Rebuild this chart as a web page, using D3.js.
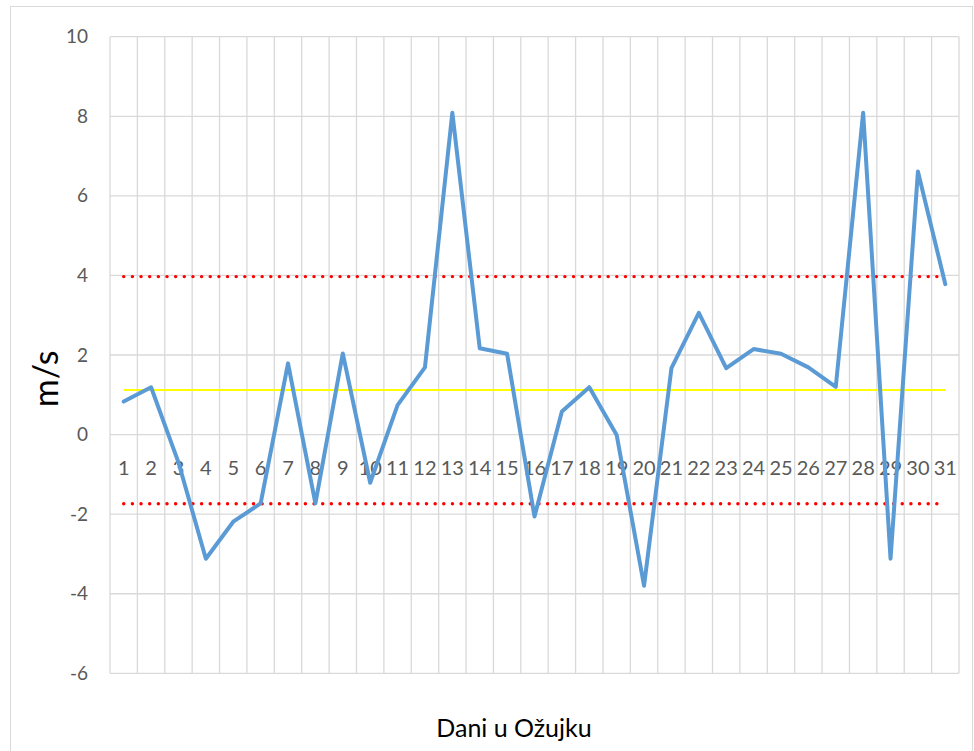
<!DOCTYPE html>
<html lang="hr">
<head>
    <meta charset="UTF-8">
    <title>Dani u Ožujku</title>
    <script src="https://cdn.jsdelivr.net/npm/d3@7"></script>
    <style>
        body { margin: 0; background: #fff; }
        text { font-family: Lato, "Open Sans", sans-serif; }
    </style>
</head>
<body>
<script>
    // dani u ozujku i izmjerene vrijednosti (m/s)
    var days = d3.range(1, 32).map(String);
    var values = [0.83, 1.19, -0.7, -3.12, -2.19, -1.73, 1.79, -1.73, 2.04, -1.21,
                  0.74, 1.69, 8.09, 2.17, 2.03, -2.06, 0.58, 1.19, -0.01, -3.80,
                  1.67, 3.06, 1.67, 2.15, 2.03, 1.69, 1.20, 8.09, -3.12, 6.61, 3.78];
    var yTicks = [-6, -4, -2, 0, 2, 4, 6, 8, 10];
    var meanValue = 1.12;      // zuta linija
    var upperLimit = 3.97;     // crvene tockaste granice
    var lowerLimit = -1.74;

    var width = 974, height = 751;
    var margin = {top: 36.7, right: 15, bottom: 77.7, left: 110};

    var svg = d3.select('body')
            .append('svg')
            .attr('width', width)
            .attr('height', height);

    // okvir grafikona
    svg.append('rect')
            .attr('x', 10.5).attr('y', 6.5)
            .attr('width', 962).attr('height', 770)
            .attr('fill', 'none')
            .attr('stroke', '#d9d9d9')
            .attr('stroke-width', 1);

    var x = d3.scaleBand()
            .domain(days)
            .range([margin.left, width - margin.right]);
    var y = d3.scaleLinear()
            .domain([-6, 10])
            .range([height - margin.bottom, margin.top]);

    // vodoravne linije mreze
    svg.append('g')
            .selectAll('line')
            .data(yTicks)
            .enter()
            .append('line')
            .attr('x1', margin.left).attr('x2', width - margin.right)
            .attr('y1', function (d) { return y(d); })
            .attr('y2', function (d) { return y(d); })
            .attr('stroke', '#d9d9d9')
            .attr('stroke-width', 1.3);

    // okomite linije mreze (granice kategorija)
    var bounds = days.map(function (d) { return x(d); }).concat([x(days[days.length - 1]) + x.bandwidth()]);
    svg.append('g')
            .selectAll('line')
            .data(bounds)
            .enter()
            .append('line')
            .attr('x1', function (d) { return d; })
            .attr('x2', function (d) { return d; })
            .attr('y1', margin.top).attr('y2', height - margin.bottom)
            .attr('stroke', '#d9d9d9')
            .attr('stroke-width', 1.3);

    // oznake y osi
    var yAxis = svg.append('g')
            .attr('transform', 'translate(' + (margin.left - 22) + ',0)')
            .call(d3.axisLeft(y).tickValues(yTicks).tickSize(0).tickPadding(0)
                    .tickFormat(function (d) { return String(d); }));
    yAxis.select('.domain').remove();
    yAxis.selectAll('text')
            .attr('fill', '#595959')
            .style('font-size', '19px');

    // oznake dana kod nule
    svg.append('g')
            .selectAll('text')
            .data(days)
            .enter()
            .append('text')
            .attr('x', function (d) { return x(d) + x.bandwidth() / 2; })
            .attr('y', y(0) + 40)
            .attr('text-anchor', 'middle')
            .attr('fill', '#595959')
            .style('font-size', '20px')
            .text(function (d) { return d; });

    var x0 = x(days[0]) + x.bandwidth() / 2;
    var x1 = x(days[days.length - 1]) + x.bandwidth() / 2;

    // granice
    svg.append('g')
            .selectAll('line')
            .data([upperLimit, lowerLimit])
            .enter()
            .append('line')
            .attr('x1', x0).attr('x2', x1 - 5)
            .attr('y1', function (d) { return y(d); })
            .attr('y2', function (d) { return y(d); })
            .attr('stroke', '#ff0000')
            .attr('stroke-width', 3.4)
            .attr('stroke-linecap', 'round')
            .attr('stroke-dasharray', '0.1 8.55');

    // srednja vrijednost
    svg.append('line')
            .attr('x1', x0).attr('x2', x1)
            .attr('y1', y(meanValue)).attr('y2', y(meanValue))
            .attr('stroke', '#ffff00')
            .attr('stroke-width', 2);

    // serija
    var line = d3.line()
            .x(function (d, i) { return x(days[i]) + x.bandwidth() / 2; })
            .y(function (d) { return y(d); });
    svg.append('path')
            .datum(values)
            .attr('d', line)
            .attr('fill', 'none')
            .attr('stroke', '#5b9bd5')
            .attr('stroke-width', 4)
            .attr('stroke-linejoin', 'round')
            .attr('stroke-linecap', 'round');

    // naslovi osi
    svg.append('text')
            .attr('transform', 'translate(58,' + y(1.4) + ') rotate(-90)')
            .attr('text-anchor', 'middle')
            .attr('fill', '#000')
            .style('font-size', '34px')
            .text('m/s');
    svg.append('text')
            .attr('x', 514)
            .attr('y', 737)
            .attr('text-anchor', 'middle')
            .attr('fill', '#000')
            .style('font-size', '25px')
            .text('Dani u Ožujku');
</script>
</body>
</html>
